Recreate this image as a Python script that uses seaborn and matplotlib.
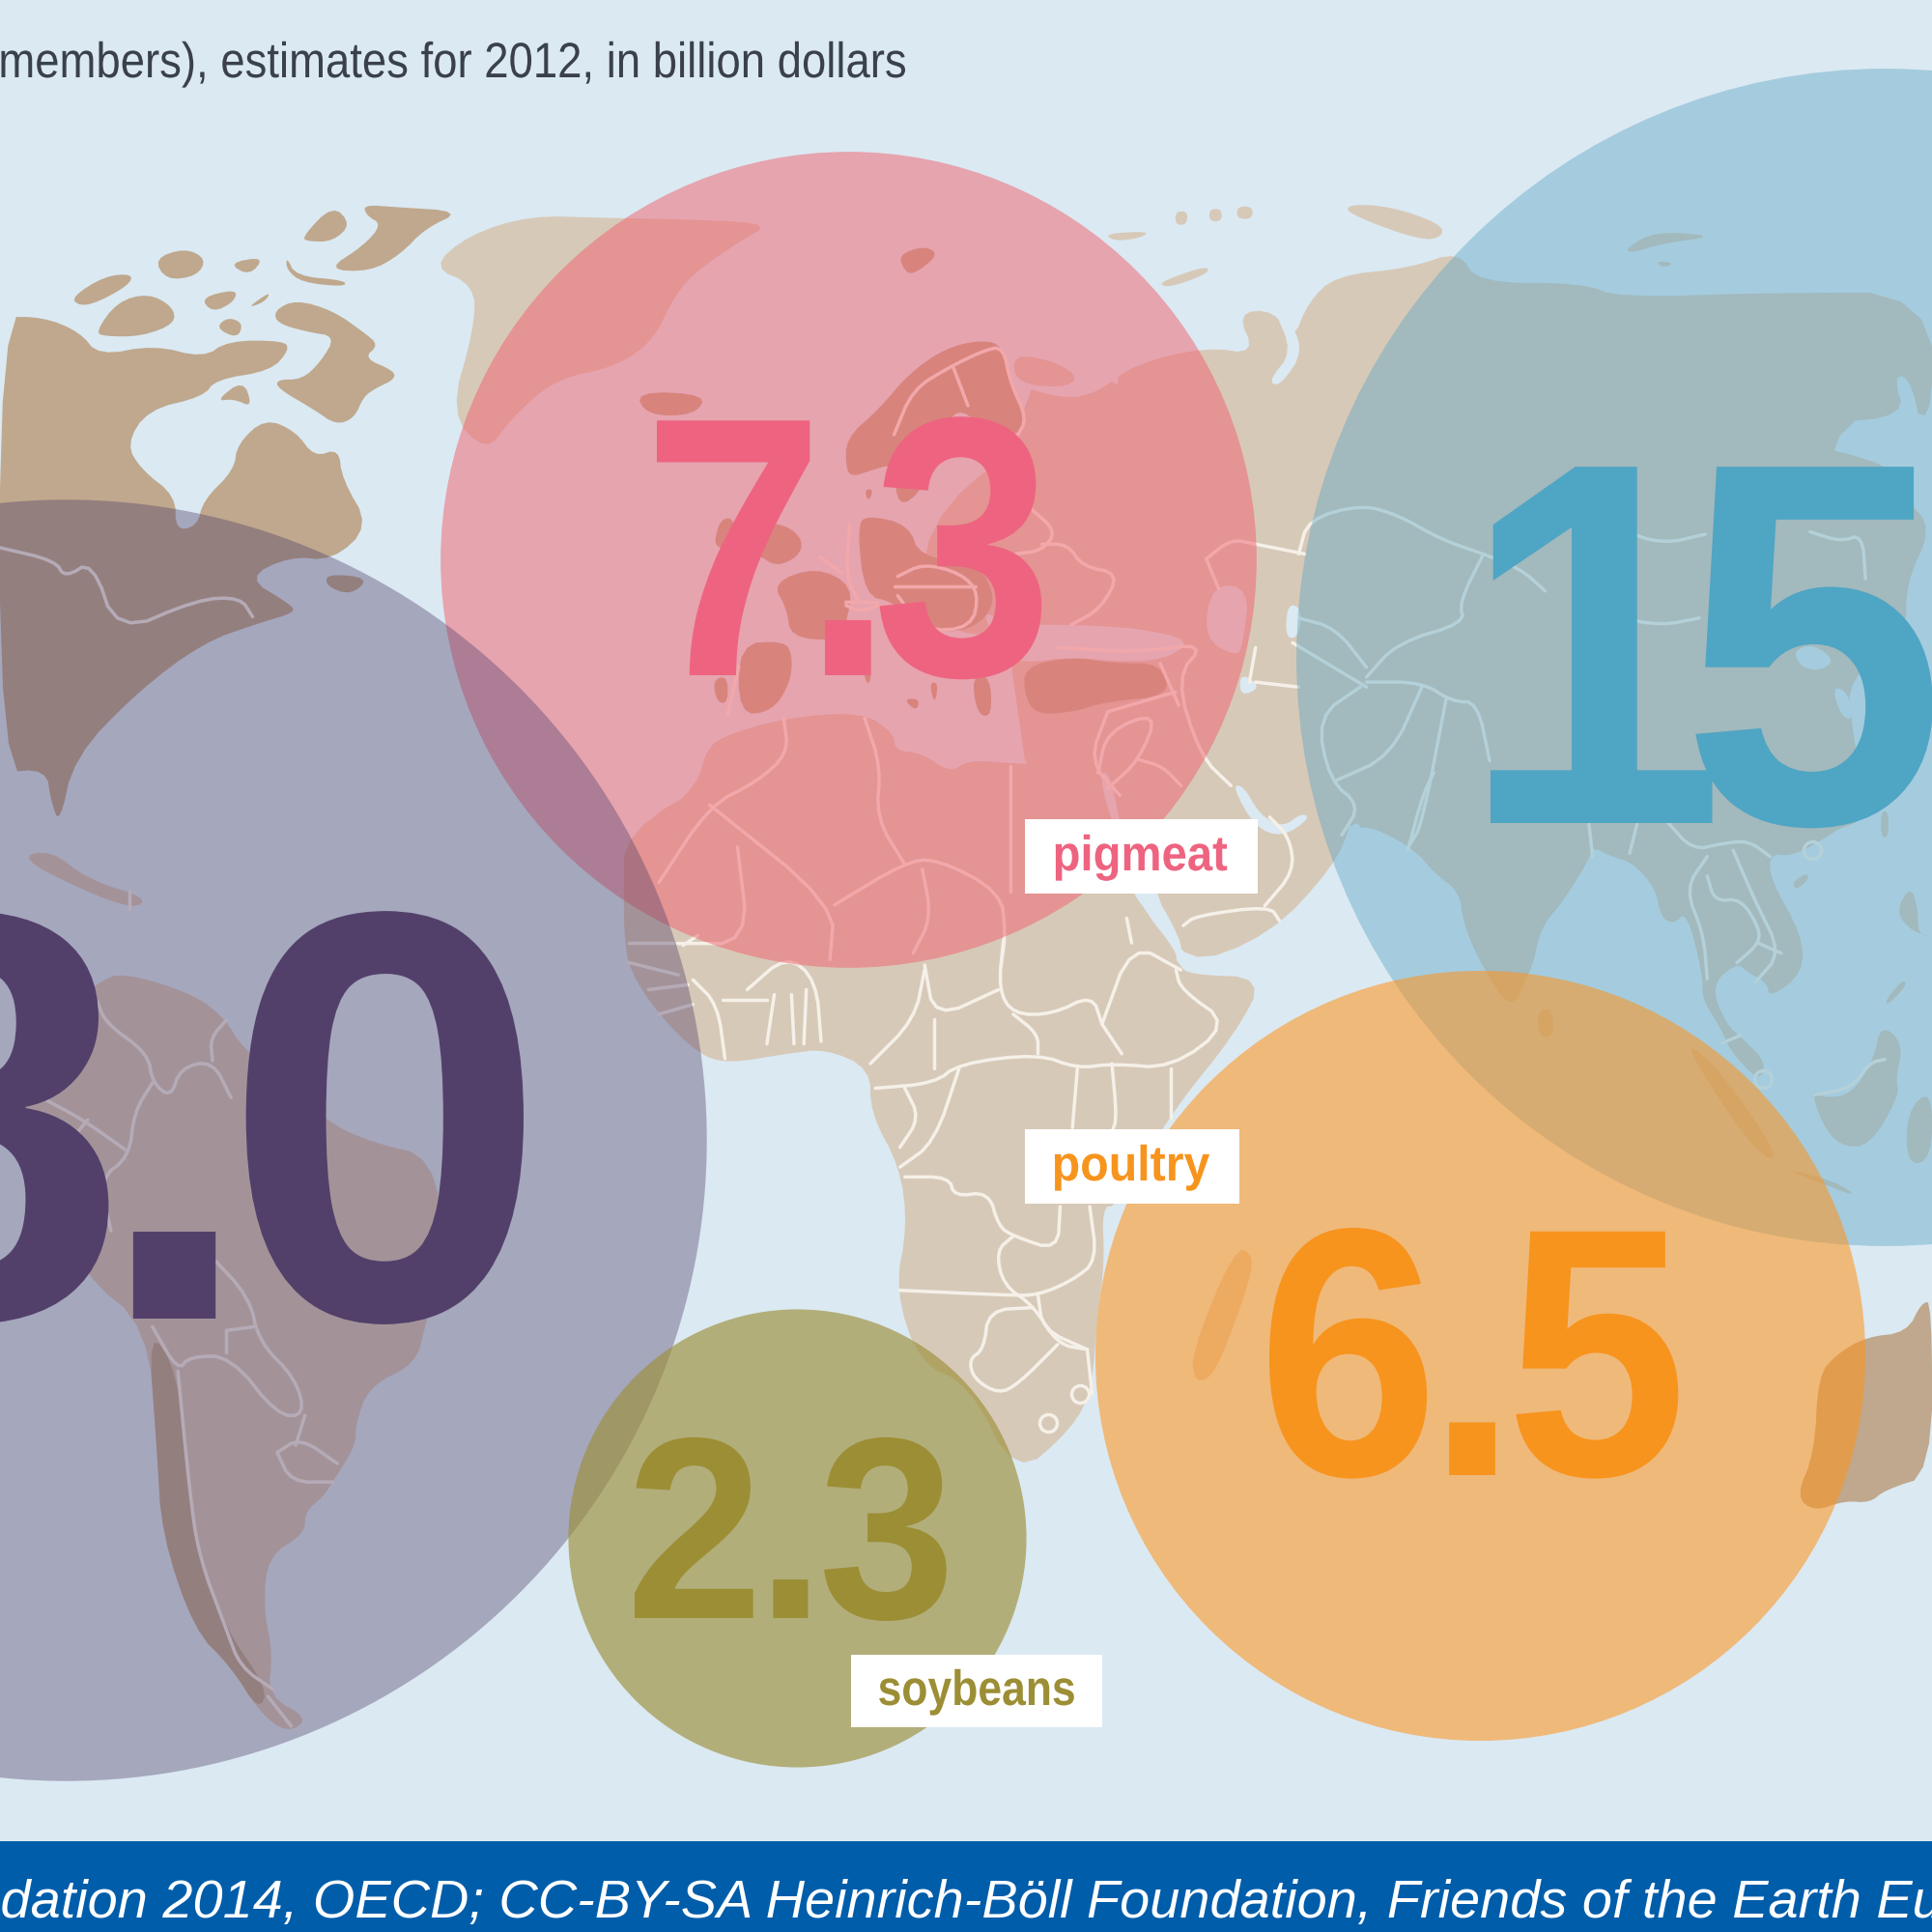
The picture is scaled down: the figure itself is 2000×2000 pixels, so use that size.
import numpy as np
import pandas as pd
import matplotlib
matplotlib.use("Agg")
import matplotlib.pyplot as plt
from matplotlib.patches import Rectangle
from matplotlib.path import Path
from matplotlib.patheffects import AbstractPathEffect
from matplotlib.transforms import IdentityTransform
import seaborn as sns

# ---- chart data -------------------------------------------------------------
commodities = ["beef", "pigmeat", "asia", "poultry", "soybeans"]
values = [18.0, 7.3, 15.2, 6.5, 2.3]
tags = [None, "pigmeat", None, "poultry", "soybeans"]
heading = "members), estimates for 2012, in billion dollars"
source = "Foundation 2014, OECD; CC-BY-SA Heinrich-Böll Foundation, Friends of the Earth Europe"

# ---- map coordinates: base map is digitised on sheets (left, top, x-scale, y-scale)
SHEETS = {
    "A": (0, 0, 1000 / 1568, 700 / 1568),
    "B": (1000, 150, 1000 / 1568, 800 / 1568),
    "C": (600, 800, 800 / 1568, 800 / 1568),
    "D": (0, 700, 750 / 1568, 1200 / 1568),
    "E": (1400, 1000, 600 / 1568, 700 / 1568),
    "F": (1500, 450, 1 / 3, 1 / 3),
    "G": (1400, 800, 600 / 1568, 1 / 3),
    "H": (650, 330, 600 / 1568, 1 / 3),
    "I": (620, 700, 750 / 1568, 1 / 3),
}

LIGHT_LAND = [
    ("A", [(700, 620), (760, 545), (860, 500), (975, 505), (1150, 510), (1250, 520), (1200, 560), (1120, 640), (1090, 700), (1060, 790), (1000, 850), (900, 880), (830, 970), (790, 1050), (730, 960), (770, 760), (770, 660)]),  # Greenland
    ("H", [(1040, 110), (1150, 130), (1220, 180), (1180, 215), (1050, 200)]),
    ("H", [(800, 640), (1060, 380), (1100, 1000), (800, 960)]),
    ("B", [(75, 1420), (75, 484), (159, 516), (213, 503), (273, 445), (390, 410), (470, 425), (440, 340), (500, 335), (530, 400), (555, 320), (600, 265), (720, 250), (800, 215), (830, 280), (1000, 280), (1060, 310), (1300, 300), (1568, 300), (1568, 590), (1505, 470), (1525, 550), (1395, 565), (1385, 1000), (627, 1386), (560, 1400), (480, 1420), (400, 1440)]),
    ("F", [(1000, 0), (1400, 100), (1420, 200), (1500, 290), (1420, 460), (1420, 620), (1240, 760), (1250, 900), (1300, 1190), (1200, 1230), (1090, 1260), (1000, 1300), (300, 1300), (300, 0)]),
    ("G", [(0, 170), (60, 170), (170, 240), (220, 310), (290, 370), (300, 470), (350, 600), (430, 740), (470, 640), (490, 590), (510, 480), (570, 400), (640, 270), (650, 230), (700, 260), (760, 280), (820, 360), (835, 450), (870, 470), (905, 430), (950, 640), (945, 700), (1000, 800), (1020, 860), (1100, 960), (1120, 900), (1060, 830), (1010, 780), (970, 660), (1040, 590), (1070, 620), (1120, 650), (1130, 700), (1220, 620), (1215, 500), (1130, 330), (1130, 250), (1190, 260), (1300, 190), (1400, 100), (1400, -100), (0, -100)]),
    ("I", [(230, 240), (260, 190), (400, 130), (570, 110), (640, 180), (640, 230), (700, 240), (760, 300), (800, 260), (890, 270), (1010, 280), (1080, 260), (1080, 300), (1100, 400), (1150, 680), (1250, 850), (1250, 900), (100, 900), (95, 640), (105, 560), (130, 450), (215, 330)]),
    ("C", [(90, 250), (90, 320), (100, 400), (160, 490), (240, 570), (300, 590), (420, 570), (500, 560), (590, 600), (590, 690), (650, 800), (665, 920), (640, 1050), (690, 1200), (790, 1240), (885, 1430), (1000, 1330), (1040, 1250), (1050, 1100), (1065, 1000), (1060, 880), (1090, 880), (1200, 690), (1330, 530), (1390, 415), (1240, 410), (1215, 390), (1140, 260), (1000, 100), (300, 0), (90, 120)]),
    ("C", [(1052, -100), (1174, 249), (1225, 395), (1400, 330), (1530, 190), (1568, 100), (1600, -100)]),
    ("C", [(1240, 1180), (1330, 960), (1370, 980), (1350, 1060), (1290, 1220), (1250, 1240)]),
    ("D", [(0, 540), (100, 470), (210, 415), (265, 400), (420, 430), (490, 465), (520, 500), (700, 600), (800, 630), (940, 650), (960, 780), (920, 880), (900, 930), (800, 960), (770, 1010), (770, 1040), (730, 1080), (700, 1110), (660, 1130), (660, 1160), (580, 1190), (570, 1260), (590, 1320), (580, 1380), (670, 1410), (620, 1430), (560, 1400), (500, 1340), (420, 1290), (350, 1160), (340, 1050), (320, 880), (180, 810), (110, 700), (0, 620)]),
    ("D", [(40, 245), (110, 235), (190, 275), (320, 300), (290, 315), (180, 290)]),
    ("G", [(900, 830), (1000, 930), (1160, 1200), (1100, 1190), (960, 960)]),
    ("G", [(1170, 1230), (1260, 1270), (1370, 1320), (1310, 1270)]),
    ("G", [(1240, 980), (1270, 1010), (1350, 1000), (1410, 890), (1430, 780), (1490, 840), (1470, 950), (1480, 1000), (1400, 1160), (1320, 1160), (1270, 1090)]),
    ("G", [(1500, 1050), (1568, 980), (1568, 1200), (1500, 1220)]),
    ("G", [(1470, 430), (1510, 350), (1530, 420), (1530, 500), (1568, 510), (1510, 490)]),
    ("G", [(1440, 710), (1490, 640), (1500, 660), (1450, 720)]),
    ("G", [(1430, 120), (1450, 120), (1450, 200), (1430, 200)]),
    ("G", [(500, 740), (540, 730), (545, 820), (505, 820)]),
    ("G", [(1190, 340), (1230, 310), (1235, 330), (1200, 365)]),
    ("B", [(310, 280), (390, 245), (395, 260), (330, 290)]),
    ("B", [(340, 135), (360, 135), (358, 162), (340, 162)]),
    ("B", [(395, 130), (415, 130), (415, 155), (395, 155)]),
    ("B", [(440, 125), (465, 125), (465, 150), (440, 150)]),
    ("B", [(225, 180), (300, 175), (280, 190), (240, 195)]),
    ("B", [(620, 120), (690, 125), (770, 160), (775, 185), (740, 195), (620, 140)]),
    ("B", [(1070, 210), (1120, 175), (1220, 185), (1130, 200), (1080, 220)]),
    ("B", [(1120, 235), (1150, 240), (1130, 250)]),
]

SEAS = [
    ("H", [(950, 900), (1030, 950), (1200, 950), (1380, 960), (1530, 1000), (1450, 1060), (1320, 1065), (1200, 1050), (1070, 1070), (1020, 1040)]),
    ("B", [(400, 890), (460, 900), (450, 1010), (440, 1040), (385, 1000)]),
    ("B", [(522, 930), (545, 940), (540, 1000), (518, 1000)]),
    ("B", [(445, 1070), (480, 1100), (445, 1120)]),
    ("B", [(500, 335), (515, 340), (550, 415), (510, 490), (490, 480), (530, 420)]),
    ("I", [(1370, 340), (1395, 340), (1430, 430), (1480, 470), (1520, 425), (1540, 440), (1480, 500), (1420, 470)]),
    ("I", [(1080, 300), (1120, 500), (1240, 850), (1270, 850), (1200, 660), (1150, 660), (1110, 300)]),
    ("H", [(1285, 130), (1320, 150), (1330, 210), (1300, 190)]),
    ("H", [(880, 260), (930, 260), (940, 300), (880, 300)]),
    ("H", [(880, 340), (940, 440), (830, 600), (760, 590), (820, 480)]),
    ("F", [(1070, 670), (1130, 650), (1200, 700), (1150, 735), (1090, 720)]),
    ("F", [(1190, 780), (1240, 800), (1255, 890), (1215, 870)]),
    ("F", [(530, 140), (565, 170), (560, 240), (530, 250)]),
    ("B", [(1505, 470), (1530, 470), (1550, 560), (1530, 560)]),
    ("A", [(0, 800), (40, 795), (55, 820), (20, 855), (0, 850)]),
    ("A", [(0, 950), (40, 910), (80, 930), (60, 945), (20, 950)]),
    ("A", [(110, 1330), (170, 1290), (190, 1370), (215, 1380), (220, 1440), (185, 1470), (180, 1380), (150, 1370), (120, 1480), (110, 1400)]),
    ("A", [(400, 1340), (440, 1290), (530, 1290), (460, 1330), (420, 1335)]),
    ("A", [(530, 1300), (580, 1260), (570, 1290), (540, 1310)]),
]

DARK_LAND = [
    ("A", [(0, 735), (70, 735), (130, 770), (160, 825), (250, 800), (330, 830), (370, 790), (460, 790), (470, 810), (440, 860), (350, 880), (330, 920), (240, 950), (205, 1030), (230, 1090), (285, 1150), (285, 1230), (320, 1220), (330, 1160), (380, 1090), (385, 1030), (430, 970), (480, 1000), (510, 1060), (550, 1040), (555, 1110), (600, 1220), (540, 1300), (470, 1290), (400, 1340), (470, 1400), (480, 1420), (420, 1445), (330, 1490), (224, 1603), (120, 1757), (97, 1911), (83, 1860), (75, 1783), (0, 1792)]),
    ("A", [(445, 720), (480, 695), (540, 720), (590, 770), (615, 800), (590, 830), (640, 860), (640, 880), (610, 900), (590, 920), (575, 970), (545, 985), (510, 950), (450, 900), (450, 880), (490, 880), (520, 840), (545, 780), (500, 770), (450, 750)]),
    ("A", [(155, 770), (190, 700), (240, 680), (280, 710), (285, 750), (230, 780), (170, 780)]),
    ("A", [(115, 690), (170, 640), (215, 635), (210, 660), (160, 700), (130, 710)]),
    ("A", [(250, 600), (300, 575), (335, 600), (320, 640), (270, 650)]),
    ("A", [(370, 610), (430, 595), (405, 640)]),
    ("A", [(465, 595), (480, 640), (560, 650), (560, 665), (490, 655), (465, 625)]),
    ("A", [(590, 475), (640, 480), (750, 490), (690, 530), (650, 590), (600, 630), (530, 625), (590, 570), (620, 520), (595, 500)]),
    ("A", [(490, 550), (540, 475), (570, 520), (540, 560), (500, 560)]),
    ("A", [(325, 690), (385, 670), (380, 700), (345, 725)]),
    ("A", [(400, 715), (440, 675), (430, 700)]),
    ("A", [(350, 760), (370, 735), (395, 750), (385, 785)]),
    ("A", [(350, 930), (395, 880), (410, 945), (380, 925)]),
    ("A", [(530, 1330), (600, 1340), (570, 1380), (530, 1360)]),
    ("A", [(1460, 590), (1500, 570), (1525, 590), (1480, 640), (1465, 620)]),  # Svalbard
    ("H", [(20, 225), (215, 235), (180, 300), (50, 300)]),  # Iceland
    ("H", [(590, 470), (590, 370), (680, 280), (760, 170), (860, 90), (960, 65), (1015, 85), (1035, 200), (1080, 310), (1050, 370), (950, 320), (890, 280), (860, 340), (800, 530), (730, 590), (720, 450), (660, 470), (610, 490)]),
    ("H", [(640, 530), (665, 530), (650, 570)]),
    ("H", [(230, 710), (250, 620), (290, 620), (280, 710)]),
    ("H", [(300, 740), (340, 630), (430, 640), (475, 690), (460, 740), (400, 770), (350, 730)]),
    ("H", [(390, 820), (510, 770), (610, 830), (590, 950), (570, 1000), (440, 990), (430, 900)]),
    ("H", [(620, 640), (650, 610), (760, 640), (790, 740), (950, 760), (1000, 880), (930, 970), (800, 970), (720, 880), (640, 860)]),
    ("H", [(300, 1010), (420, 1000), (445, 1040), (440, 1130), (390, 1220), (300, 1230)]),
    ("H", [(230, 1120), (270, 1110), (270, 1195), (240, 1190)]),
    ("H", [(630, 1000), (650, 1000), (660, 1130), (640, 1130)]),
    ("H", [(745, 1180), (790, 1180), (780, 1220)]),
    ("H", [(815, 1130), (840, 1130), (830, 1200)]),
    ("H", [(930, 1110), (980, 1110), (985, 1235), (945, 1230)]),
    ("H", [(1070, 1080), (1200, 1050), (1320, 1070), (1440, 1070), (1470, 1170), (1290, 1190), (1210, 1220), (1110, 1230), (1075, 1180)]),
    ("D", [(320, 880), (385, 940), (410, 1100), (430, 1190), (490, 1290), (580, 1370), (560, 1400), (500, 1340), (420, 1290), (350, 1160), (340, 1050)]),
    ("E", [(1200, 1230), (1250, 1130), (1260, 950), (1310, 900), (1390, 860), (1500, 850), (1540, 780), (1568, 780), (1568, 1180), (1440, 1215), (1400, 1245), (1330, 1240), (1250, 1265)]),
]

BORDERS = [
    ("A", [(0, 1270), (90, 1300), (105, 1340), (150, 1300), (190, 1470), (320, 1390), (390, 1385), (410, 1430)]),
    ("I", [(400, 130), (410, 240), (340, 330), (240, 400), (130, 640)]),
    ("I", [(240, 400), (510, 710), (500, 880)]),
    ("I", [(510, 710), (660, 580), (730, 565), (870, 670), (880, 800), (870, 900)]),
    ("I", [(660, 580), (600, 440), (610, 280), (575, 130)]),
    ("I", [(700, 600), (720, 750), (680, 860)]),
    ("I", [(300, 530), (325, 830), (170, 830)]),
    ("I", [(890, 280), (890, 670)]),
    ("I", [(1080, 300), (1100, 170), (1210, 110), (1170, 260), (1100, 350)]),
    ("I", [(1170, 260), (1220, 280), (1260, 340)]),
    ("C", [(860, 340), (850, 440), (880, 490), (960, 490), (1040, 450), (1060, 510)]),
    ("C", [(850, 440), (720, 500), (700, 390)]),
    ("C", [(720, 500), (720, 600)]),
    ("C", [(700, 400), (680, 500), (590, 590)]),
    ("C", [(600, 640), (720, 630), (770, 590), (930, 570), (1010, 600), (1080, 590), (1200, 600), (1320, 510), (1220, 440), (1210, 400)]),
    ("C", [(880, 490), (930, 530), (930, 570)]),
    ("C", [(1060, 510), (1100, 570)]),
    ("C", [(1060, 510), (1120, 345), (1220, 400)]),
    ("C", [(1120, 345), (1110, 295)]),
    ("C", [(1010, 600), (1000, 720)]),
    ("C", [(1080, 590), (1090, 700), (1080, 730)]),
    ("C", [(1200, 600), (1200, 700)]),
    ("C", [(770, 600), (720, 750), (650, 800)]),
    ("C", [(660, 640), (690, 700), (650, 760)]),
    ("C", [(660, 820), (750, 820), (760, 860), (830, 850), (850, 920), (880, 940), (970, 970), (975, 880)]),
    ("C", [(1035, 880), (1050, 990), (1000, 1030), (930, 1060), (870, 1060), (650, 1050)]),
    ("C", [(880, 940), (845, 970), (860, 1040), (920, 1080), (970, 1160), (1030, 1170)]),
    ("C", [(920, 1085), (830, 1090), (820, 1170), (790, 1190), (800, 1230), (850, 1260), (890, 1240), (970, 1160)]),
    ("C", [(1030, 1170), (1040, 1260)]),
    ("C", [(930, 1060), (940, 1130), (1030, 1170)]),
    ("C", [(210, 350), (240, 330)]),
    ("C", [(340, 440), (420, 370), (480, 420), (490, 545)]),
    ("C", [(230, 420), (280, 470), (295, 580)]),
    ("C", [(290, 460), (380, 460)]),
    ("C", [(380, 550), (395, 450)]),
    ("C", [(430, 450), (435, 550)]),
    ("C", [(460, 440), (455, 550)]),
    ("C", [(100, 345), (190, 345)]),
    ("C", [(100, 385), (200, 410)]),
    ("C", [(140, 440), (220, 430)]),
    ("C", [(160, 490), (230, 470)]),
    ("C", [(1225, 310), (1250, 290), (1400, 270), (1420, 300)]),
    ("C", [(1390, 270), (1450, 200), (1440, 130), (1400, 90)]),
    ("B", [(540, 830), (555, 760), (640, 730), (700, 750), (770, 800), (840, 830), (900, 860), (940, 905)]),
    ("B", [(1060, 780), (1130, 810), (1200, 790)]),
    ("B", [(470, 810), (550, 830)]),
    ("B", [(390, 840), (430, 800), (470, 810)]),
    ("B", [(390, 840), (410, 900)]),
    ("B", [(840, 830), (800, 930), (810, 970), (700, 1010), (650, 1080)]),
    ("B", [(540, 960), (600, 980), (650, 1060)]),
    ("B", [(530, 1010), (650, 1100)]),
    ("B", [(650, 1090), (740, 1090), (790, 1130), (830, 1130), (850, 1250)]),
    ("B", [(640, 1100), (570, 1160), (590, 1290), (640, 1340), (610, 1400)]),
    ("B", [(740, 1100), (690, 1240), (600, 1290)]),
    ("B", [(780, 1120), (740, 1380), (720, 1420)]),
    ("B", [(1060, 960), (1130, 975), (1190, 960)]),
    ("B", [(1370, 785), (1420, 805), (1455, 790), (1460, 880)]),
    ("B", [(470, 1090), (540, 1100)]),
    ("B", [(470, 1020), (460, 1090)]),
    ("B", [(150, 1020), (280, 1030), (390, 1010), (340, 1080), (380, 1240), (430, 1300)]),
    ("B", [(230, 1150), (340, 1110)]),
    ("B", [(230, 1150), (200, 1250), (250, 1320)]),
    ("G", [(640, 160), (650, 260)]),
    ("G", [(770, 160), (750, 250)]),
    ("G", [(850, 150), (920, 240), (1000, 220), (1070, 210), (1130, 260)]),
    ("G", [(960, 260), (900, 360), (950, 500), (960, 640)]),
    ("G", [(1030, 240), (1090, 400), (1160, 560), (1090, 650)]),
    ("G", [(960, 320), (980, 400), (1050, 390), (1100, 480), (1100, 530), (1040, 590)]),
    ("G", [(1100, 530), (1160, 560)]),
    ("G", [(1000, 840), (1050, 815)]),
    ("G", [(1250, 1000), (1350, 980), (1400, 900), (1440, 890)]),
    ("G", [(150, 240), (190, 70), (220, 0)]),
    ("D", [(210, 440), (230, 470), (320, 510), (330, 550), (370, 570), (390, 530), (460, 520), (500, 570)]),
    ("D", [(460, 520), (455, 490), (490, 465)]),
    ("D", [(330, 550), (290, 590), (280, 650), (215, 680), (240, 750)]),
    ("D", [(90, 570), (180, 600), (270, 640)]),
    ("D", [(150, 630), (190, 600)]),
    ("D", [(450, 780), (540, 840), (560, 900), (640, 950), (660, 1000), (600, 1000), (500, 920), (410, 920), (385, 940), (330, 880)]),
    ("D", [(490, 885), (550, 880)]),
    ("D", [(490, 885), (490, 915)]),
    ("D", [(385, 940), (410, 1100), (430, 1190), (490, 1290), (520, 1340), (590, 1370)]),
    ("D", [(600, 1050), (650, 1030), (730, 1065)]),
    ("D", [(600, 1050), (630, 1090), (720, 1090)]),
    ("D", [(660, 1000), (640, 1040)]),
    ("D", [(580, 1380), (630, 1420)]),
    ("D", [(280, 290), (280, 315)]),
    ("H", [(720, 360), (770, 220), (870, 150), (960, 100), (1015, 85), (1035, 200), (1080, 310), (1050, 370)]),
    ("H", [(880, 150), (920, 270)]),
    ("H", [(730, 800), (800, 760), (900, 790), (950, 850), (930, 960), (800, 970), (730, 860)]),
    ("H", [(720, 830), (940, 830)]),
    ("H", [(590, 880), (700, 880), (630, 910), (590, 890)]),
    ("H", [(600, 640), (590, 800), (620, 870)]),
    ("H", [(520, 740), (580, 790)]),
    ("H", [(1090, 590), (1160, 660), (1120, 720), (1050, 730)]),
    ("H", [(1120, 700), (1190, 700), (1230, 770), (1330, 790), (1280, 900), (1200, 950)]),
    ("H", [(1440, 1070), (1490, 1200)]),
    ("H", [(300, 1080), (270, 1230)]),
]

RINGS = [("C", 950, 1320), ("C", 1015, 1260), ("G", 1245, 240), ("G", 1110, 950)]


def on_sheet(sheet, pts, closed=True, passes=2):
    """Convert outline points from a digitising sheet to figure pixels, rounding corners."""
    left, top, sx, sy = SHEETS[sheet]
    arr = np.asarray(pts, dtype=float)
    arr = np.column_stack([left + arr[:, 0] * sx, top + arr[:, 1] * sy])
    for _ in range(passes if len(arr) > 2 else 0):
        nxt = np.roll(arr, -1, axis=0)
        q, r = 0.75 * arr + 0.25 * nxt, 0.25 * arr + 0.75 * nxt
        if closed:
            arr = np.column_stack([q, r]).reshape(-1, 2)
        else:
            mid = np.column_stack([q[:-1], r[:-1]]).reshape(-1, 2)
            arr = np.vstack([arr[:1], mid, arr[-1:]])
    return arr[:, 0], arr[:, 1]


class Typeset(AbstractPathEffect):
    """Condense a text horizontally, tighten the gaps between glyphs and pin its ink."""

    def __init__(self, squeeze=1.0, track=0.0, pin=None, anchor="center"):
        self.squeeze, self.track, self.pin, self.anchor = squeeze, track, pin, anchor

    def draw_path(self, renderer, gc, tpath, affine, rgbFace=None):
        verts = affine.transform(tpath.vertices).copy()
        codes = tpath.codes
        starts = list(np.flatnonzero(codes == Path.MOVETO)) + [len(codes)]
        spans = []
        for s, e in zip(starts[:-1], starts[1:]):
            mask = codes[s:e] != Path.CLOSEPOLY
            xs = verts[s:e, 0][mask]
            spans.append([xs.min(), xs.max(), s, e])
        spans.sort(key=lambda item: item[0])
        # subpaths that overlap in x belong to the same glyph
        clusters = []
        for span in spans:
            if clusters and span[0] < clusters[-1]["right"]:
                clusters[-1]["right"] = max(clusters[-1]["right"], span[1])
                clusters[-1]["parts"].append(span)
            else:
                clusters.append({"right": span[1], "parts": [span]})
        gaps = np.broadcast_to(np.atleast_1d(self.track), (max(len(clusters) - 1, 1),))
        shift = 0.0
        for i, cluster in enumerate(clusters):
            if i:
                shift -= gaps[i - 1]
            for _, _, s, e in cluster["parts"]:
                verts[s:e, 0] += shift
        ink = verts[codes != Path.CLOSEPOLY, 0]
        if self.anchor == "left":
            origin = ink.min()
        elif self.anchor == "right":
            origin = ink.max()
        else:
            origin = 0.5 * (ink.min() + ink.max())
        target = origin if self.pin is None else self.pin
        verts[:, 0] = target + (verts[:, 0] - origin) * self.squeeze
        renderer.draw_path(gc, Path(verts, codes), IdentityTransform(), rgbFace)


# ---- bubble layout and styling ---------------------------------------------
bubble_x = [68, 878, 1951, 1532, 825]
bubble_y = [1180, 579, 680, 1403, 1592]
fill_colors = ["#52406A", "#F1616E", "#5AA5C4", "#FF941D", "#9C8E35"]
fill_alpha = [0.39, 0.50, 0.42, 0.56, 0.64]
text_colors = ["#52406A", "#EE6480", "#4FA5C4", "#F7941D", "#9C8E35"]
label_pin = [542, 680, 1543, 1314, 657]
label_anchor = ["right", "left", "left", "left", "left"]
label_baseline = [1365, 699, 852, 1527, 1675]
label_size = [435, 276, 386, 264, 193]
label_squeeze = [1.0, 0.88, 0.92, 0.92, 0.95]
label_track = [[34, 34, 34], [25, 25], [50, 0, 0], [13, 13], [7, 7]]
tag_boxes = [None, (1061, 848, 241, 77), None, (1061, 1169, 222, 77), (881, 1713, 260, 75)]
tag_squeeze = [None, 0.92, None, 0.94, 0.865]
AREA_PER_UNIT = 50670.0  # pt^2 of marker box per billion dollars

OCEAN = "#DBE9F2"
LAND_LIGHT = "#D7C9B8"
LAND_DARK = "#BFA88D"
BORDER = "#F5F0E8"
BAR = "#005DAA"

sns.set_theme(style="white")
plt.rcParams["font.family"] = ["Liberation Sans", "DejaVu Sans"]

fig = plt.figure(figsize=(20, 20), dpi=100, facecolor=OCEAN)
ax = fig.add_axes([0, 0, 1, 1])
ax.set_facecolor(OCEAN)

# base map
for sheet, pts in LIGHT_LAND:
    ax.fill(*on_sheet(sheet, pts), color=LAND_LIGHT, lw=0, zorder=1)
for sheet, pts in SEAS:
    ax.fill(*on_sheet(sheet, pts), color=OCEAN, lw=0, zorder=1.1)
for sheet, pts in DARK_LAND:
    ax.fill(*on_sheet(sheet, pts), color=LAND_DARK, lw=0, zorder=1.2)
for sheet, pts in BORDERS:
    ax.plot(*on_sheet(sheet, pts, closed=False), color=BORDER, lw=2.5,
            solid_joinstyle="round", solid_capstyle="round", zorder=1.3)
for sheet, x, y in RINGS:
    ax.plot(*on_sheet(sheet, [(x, y)]), marker="o", ms=13, mfc="none", mec=BORDER, mew=2.5, zorder=1.3)

# bubbles: marker area is proportional to the trade value
table = pd.DataFrame({
    "commodity": commodities, "value": values, "x": bubble_x, "y": bubble_y,
    "color": fill_colors, "alpha": fill_alpha,
})
for rank, order in enumerate([1, 0, 2, 3, 4]):
    row = table.iloc[[order]]
    sns.scatterplot(data=row, x="x", y="y", s=row["value"].iloc[0] * AREA_PER_UNIT,
                    color=row["color"].iloc[0], alpha=row["alpha"].iloc[0],
                    linewidth=0, legend=False, ax=ax, zorder=2 + rank * 0.01)

# value labels
for v, pin, anchor, y, size, sq, tr, col in zip(values, label_pin, label_anchor, label_baseline,
                                               label_size, label_squeeze, label_track, text_colors):
    ax.text(pin, y, f"{v:.1f}", ha=anchor, va="baseline", fontsize=size, fontweight="bold", color=col,
            zorder=3, path_effects=[Typeset(sq, tr, pin, anchor)])

# commodity tags
for tag, box, sq, col in zip(tags, tag_boxes, tag_squeeze, text_colors):
    if tag is None:
        continue
    bx, by, bw, bh = box
    ax.add_patch(Rectangle((bx, by), bw, bh, facecolor="white", edgecolor="none", zorder=4))
    ax.text(bx + bw / 2, by + bh / 2 + 1, tag, ha="center", va="center", fontsize=37,
            fontweight="bold", color=col, zorder=5,
            path_effects=[Typeset(sq, 0, bx + bw / 2, "center")])

# heading and source strip
ax.text(937, 80, heading, ha="right", va="baseline", fontsize=37, color="#3A414B", zorder=5,
        path_effects=[Typeset(0.885, 0, 937, "right")])
ax.add_patch(Rectangle((0, 1906), 2000, 94, facecolor=BAR, edgecolor="none", zorder=5))
ax.text(-127, 1985, source, ha="left", va="baseline", fontsize=40.2, color="white",
        style="italic", zorder=6)

ax.set_xlim(0, 2000)
ax.set_ylim(2000, 0)
ax.set_axis_off()

fig.savefig("out.png", dpi=100, facecolor=OCEAN)
